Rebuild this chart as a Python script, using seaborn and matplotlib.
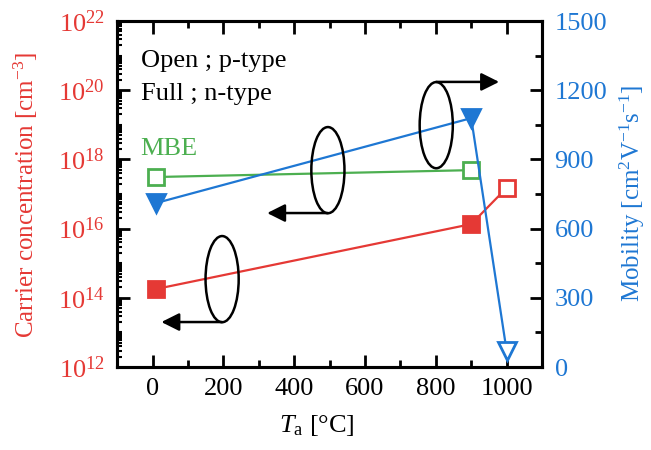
import math
import matplotlib
matplotlib.use("Agg")
import matplotlib.pyplot as plt
import matplotlib.ticker as mticker
from matplotlib.patches import Ellipse
import seaborn as sns
import pandas as pd

# ---- data ----
temp_red = [10, 900, 1000]
conc_red = [1.8e14, 1.35e16, 1.5e17]
fill_red = [True, True, False]

temp_green = [10, 900]
conc_green = [3.1e17, 4.9e17]

temp_blue = [10, 900, 1000]
mob_blue = [711, 1079, 70]
fill_blue = [True, True, False]

legend_lines = ["Open ; p-type", "Full ; n-type"]
mbe_label = "MBE"
xticks = [0, 200, 400, 600, 800, 1000]

RED = "#E53935"
GREEN = "#4CAF50"
BLUE = "#1E77D3"

sns.set_theme(style="ticks")
plt.rcParams["font.family"] = ["Liberation Serif", "DejaVu Serif"]
plt.rcParams["mathtext.fontset"] = "custom"
plt.rcParams["mathtext.rm"] = "Liberation Serif"
plt.rcParams["mathtext.it"] = "Liberation Serif:italic"
plt.rcParams["mathtext.bf"] = "Liberation Serif:bold"

FS = 19
LFS = 18

fig = plt.figure(figsize=(6.51, 4.5), dpi=100)
ax = fig.add_axes([0.180, 0.1844, 0.6526, 0.7689])
ax2 = ax.twinx()

df_red = pd.DataFrame({"T": temp_red, "n": conc_red, "f": fill_red})
df_green = pd.DataFrame({"T": temp_green, "n": conc_green})
df_blue = pd.DataFrame({"T": temp_blue, "mu": mob_blue, "f": fill_blue})

ax.set_yscale("log")
lw = 1.6
ms = 11.5
# lines
sns.lineplot(data=df_red, x="T", y="n", ax=ax, color=RED, lw=lw, sort=False)
sns.lineplot(data=df_green, x="T", y="n", ax=ax, color=GREEN, lw=lw, sort=False)
sns.lineplot(data=df_blue, x="T", y="mu", ax=ax2, color=BLUE, lw=lw, sort=False)

# markers
for _, r in df_red.iterrows():
    ax.plot(r["T"], r["n"], marker="s", ms=ms, ls="none",
            mfc=RED if r["f"] else "white", mec=RED, mew=2, zorder=5)
for _, r in df_green.iterrows():
    ax.plot(r["T"], r["n"], marker="s", ms=ms, ls="none",
            mfc="white", mec=GREEN, mew=2, zorder=5)
for _, r in df_blue.iterrows():
    ax2.plot(r["T"], r["mu"], marker="v", ms=ms + 1, ls="none",
             mfc=BLUE if r["f"] else "white", mec=BLUE, mew=2, zorder=5)

ax.set_xlim(-100, 1100)
ax.set_ylim(1e12, 1e22)
ax2.set_ylim(0, 1500)

ax.set_xticks(xticks)
ax.xaxis.set_minor_locator(mticker.MultipleLocator(100))
ax.yaxis.set_major_locator(mticker.FixedLocator([1e12, 1e14, 1e16, 1e18, 1e20, 1e22]))
ax.yaxis.set_minor_locator(mticker.LogLocator(base=10, subs=[1.0, 2, 3, 4, 5, 6, 7, 8, 9], numticks=30))
ax.yaxis.set_minor_formatter(mticker.NullFormatter())
ax.yaxis.set_major_formatter(mticker.FuncFormatter(
    lambda v, p: r"$10^{%d}$" % round(math.log10(v))))
ax2.yaxis.set_major_locator(mticker.MultipleLocator(300))
ax2.yaxis.set_minor_locator(mticker.MultipleLocator(150))

for a in (ax, ax2):
    for s in a.spines.values():
        s.set_linewidth(2.2)
        s.set_color("black")

ax.tick_params(axis="x", which="both", direction="in", top=True, bottom=True,
               labelsize=FS, pad=8, colors="black", width=2)
ax.tick_params(axis="x", which="major", length=9)
ax.tick_params(axis="x", which="minor", length=5)
ax.tick_params(axis="y", which="both", direction="in", left=True, right=False,
               labelsize=FS, pad=9, width=2, labelcolor=RED, color="black")
ax.tick_params(axis="y", which="major", length=9)
ax.tick_params(axis="y", which="minor", length=3.5, width=1.5)
ax2.tick_params(axis="y", which="both", direction="in", right=True,
                labelsize=FS, pad=9, width=2, labelcolor=BLUE, color="black")
ax2.tick_params(axis="y", which="major", length=9)
ax2.tick_params(axis="y", which="minor", length=5)

ax.set_xlabel(r"$T_{\mathrm{a}}$ [°C]", fontsize=FS, color="black", va="center")
ax.xaxis.set_label_coords(0.47, -0.168)
ax.set_ylabel(r"Carrier concentration [cm$^{-3}$]", fontsize=LFS, color=RED, va="center")
ax.yaxis.set_label_coords(-0.214, 0.497)
ax2.set_ylabel(r"Mobility [cm$^{2}$V$^{-1}$s$^{-1}$]", fontsize=LFS, color=BLUE, va="center")
ax2.yaxis.set_label_coords(1.212, 0.503)

# text annotations
ax.text(0.055, 0.885, legend_lines[0], transform=ax.transAxes, fontsize=FS,
        va="center", ha="left", color="black")
ax.text(0.055, 0.79, legend_lines[1], transform=ax.transAxes, fontsize=FS,
        va="center", ha="left", color="black")
ax.text(0.055, 0.63, mbe_label, transform=ax.transAxes, fontsize=FS,
        va="center", ha="left", color=GREEN)

# ellipses and arrows
ell_w, ell_h = 0.078, 0.249
for cx, cy in [(0.247, 0.254), (0.496, 0.569), (0.751, 0.699)]:
    ax2.add_patch(Ellipse((cx, cy), ell_w, ell_h, transform=ax.transAxes,
                          fill=False, ec="black", lw=1.8, zorder=6))

arrows = [((0.247, 0.130), (0.104, 0.130)),
          ((0.496, 0.445), (0.353, 0.445)),
          ((0.751, 0.824), (0.899, 0.824))]
for (x0, y0), (x1, y1) in arrows:
    ax2.annotate("", xy=(x1, y1), xytext=(x0, y0), xycoords=ax.transAxes,
                 textcoords=ax.transAxes,
                 arrowprops=dict(arrowstyle="-|>,head_length=0.9,head_width=0.45",
                                 color="black", lw=1.8, shrinkA=0, shrinkB=0))

fig.savefig("out.png", dpi=100)
